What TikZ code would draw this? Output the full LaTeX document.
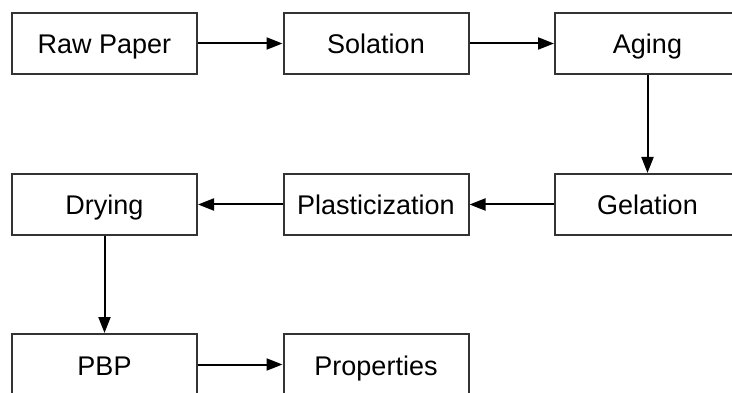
\documentclass[tikz,border=0pt]{standalone}
\usepackage{fontspec}
\setmainfont{Liberation Sans}
\usetikzlibrary{arrows.meta}
\begin{document}
\begin{tikzpicture}[x=1pt,y=-1pt,
  box/.style={draw=black!80,line width=2pt,minimum width=185pt,minimum height=61pt,inner sep=0pt,text height=21pt,text depth=0pt,font=\fontsize{27}{32}\selectfont,fill=white},
  conn/.style={line width=2pt,-{Triangle[length=16pt,width=12pt]}}]
\useasboundingbox (0,0) rectangle (732,393);
\node[box] (raw) at (104.5,43.5) {Raw Paper};
\node[box] (sol) at (376,43.5) {Solation};
\node[box] (aging) at (647.5,43.5) {Aging};
\node[box] (gel) at (647.5,204.5) {Gelation};
\node[box] (plast) at (376,204.5) {Plasticization};
\node[box] (dry) at (104.5,204.5) {Drying};
\node[box] (pbp) at (104.5,364.5) {PBP};
\node[box] (prop) at (376,364.5) {Properties};
\draw[conn] (raw) -- (sol);
\draw[conn] (sol) -- (aging);
\draw[conn] (aging) -- (gel);
\draw[conn] (gel) -- (plast);
\draw[conn] (plast) -- (dry);
\draw[conn] (dry) -- (pbp);
\draw[conn] (pbp) -- (prop);
\end{tikzpicture}
\end{document}
